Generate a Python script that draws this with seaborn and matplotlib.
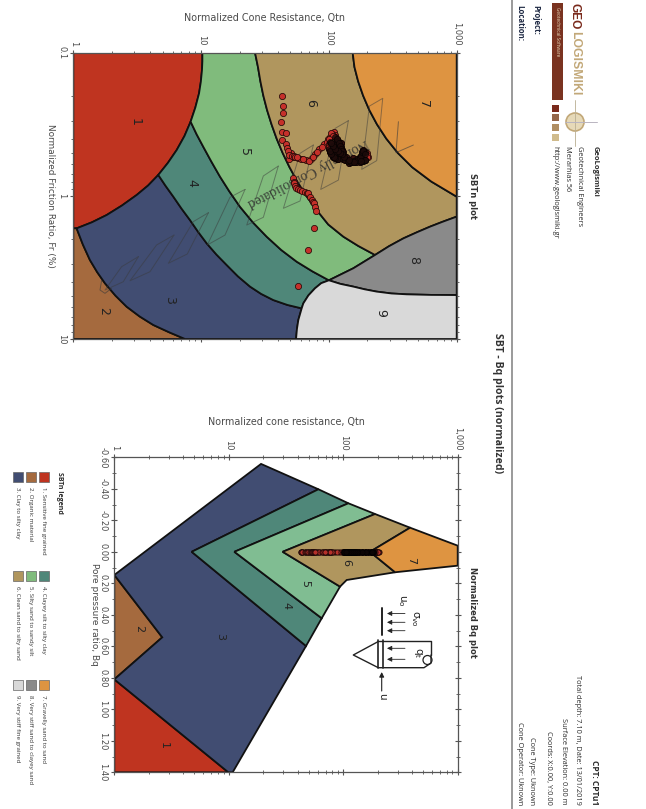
import numpy as np
import pandas as pd
import seaborn as sns
import matplotlib
matplotlib.use("Agg")
import matplotlib.pyplot as plt
from matplotlib.patches import Rectangle, Circle, FancyArrowPatch
from matplotlib.ticker import FixedLocator, FixedFormatter, NullFormatter, LogLocator, MultipleLocator

# colours of the soil behaviour zones
ZONE_COLORS = ["#bf3420", "#a56a3e", "#414d72", "#4f8779", "#80bb7c",
               "#b0965e", "#de9441", "#8a8a8a", "#d9d9d9"]
BQ_5_COLOR = "#80bd92"

LEGEND_NAMES = ["1. Sensitive fine grained", "2. Organic material", "3. Clay to silty clay",
                "4. Clayey silt to silty clay", "5. Silty sand to sandy silt", "6. Clean sand to silty sand",
                "7. Gravelly sand to sand", "8. Very stiff sand to clayey sand", "9. Very stiff fine grained"]

# zone boundaries of the Fr plot (log10 Qtn, log10 Fr)
C1_Q = [1.01, 1.01, 1.007, 0.998, 0.984, 0.955, 0.918, 0.87, 0.809, 0.74, 0.665, 0.585, 0.496, 0.38, 0.261, 0.145, 0.026]
C1_F = [-1.0, -0.94, -0.879, -0.797, -0.716, -0.617, -0.518, -0.418, -0.32, -0.23, -0.146, -0.072, -0.006, 0.068, 0.134, 0.185, 0.227]
C23_Q = [0.026, 0.075, 0.13, 0.187, 0.248, 0.33, 0.417, 0.52, 0.626, 0.75, 0.874]
C23_F = [0.227, 0.34, 0.448, 0.533, 0.611, 0.697, 0.774, 0.843, 0.902, 0.953, 1.0]
C34_Q = [0.665, 0.722, 0.783, 0.846, 0.913, 0.977, 1.044, 1.12, 1.2, 1.288, 1.383, 1.47, 1.565, 1.675, 1.787]
C34_F = [-0.146, -0.07, 0.006, 0.088, 0.169, 0.252, 0.332, 0.41, 0.483, 0.562, 0.634, 0.685, 0.728, 0.762, 0.786]
C45_Q = [0.918, 0.965, 1.017, 1.08, 1.148, 1.222, 1.304, 1.405, 1.513, 1.627, 1.748, 1.872, 2.0]
C45_F = [-0.518, -0.43, -0.343, -0.24, -0.134, -0.03, 0.076, 0.185, 0.285, 0.378, 0.46, 0.528, 0.59]
C56_Q = [1.422, 1.445, 1.464, 1.487, 1.516, 1.551, 1.591, 1.638, 1.692, 1.753, 1.823, 1.905, 1.995, 2.113, 2.23, 2.361]
C56_F = [-1.0, -0.9, -0.8, -0.7, -0.6, -0.5, -0.4, -0.3, -0.2, -0.1, 0.0, 0.1, 0.2, 0.285, 0.35, 0.413]
C67_Q = [2.186, 2.2, 2.229, 2.268, 2.316, 2.376, 2.449, 2.539, 2.652, 2.801, 3.0]
C67_F = [-1.0, -0.9, -0.8, -0.7, -0.6, -0.5, -0.4, -0.3, -0.2, -0.1, 0.006]
C68_Q = [2.361, 2.47, 2.583, 2.69, 2.792, 2.89, 3.0]
C68_F = [0.413, 0.352, 0.297, 0.254, 0.215, 0.181, 0.145]
C58_Q = [2.361, 2.191, 2.0]
C58_F = [0.413, 0.506, 0.59]
C89_Q = [2.0, 2.09, 2.191, 2.28, 2.374, 2.49, 2.609, 2.8, 3.0]
C89_F = [0.59, 0.615, 0.634, 0.653, 0.669, 0.682, 0.688, 0.692, 0.693]
C9_Q = [2.0, 1.94, 1.891, 1.84, 1.80, 1.787, 1.761, 1.75, 1.743]
C9_F = [0.59, 0.61, 0.646, 0.695, 0.751, 0.786, 0.867, 0.93, 1.0]

# Normally Consolidated band, parallelograms in the same decades
NC_Q = [[2.421, 2.317, 2.257, 2.374], [2.152, 2.048, 1.936, 2.074], [1.878, 1.774, 1.644, 1.774],
        [1.604, 1.487, 1.357, 1.487], [1.344, 1.226, 1.049, 1.187], [1.057, 0.939, 0.744, 0.892],
        [0.788, 0.652, 0.444, 0.600], [0.509, 0.378, 0.248, 0.391]]
NC_F = [[-0.681, -0.627, -0.185, -0.246], [-0.525, -0.471, -0.045, -0.110], [-0.355, -0.297, 0.087, 0.036],
        [-0.208, -0.139, 0.204, 0.150], [-0.045, 0.010, 0.343, 0.274], [0.118, 0.180, 0.471, 0.406],
        [0.274, 0.343, 0.593, 0.530], [0.425, 0.495, 0.658, 0.600]]
HOOK_Q = [0.300, 0.248, 0.209, 0.222]
HOOK_F = [0.646, 0.681, 0.658, 0.588]
FORK_Q = [2.544, 2.525, 2.661]
FORK_F = [-0.518, -0.302, -0.355]

# CPT points
LOG_QTN = [1.631, 1.641, 1.644, 1.628, 1.636, 1.664, 1.636, 1.662, 1.675, 1.701, 1.717, 1.691,
           1.68, 1.69, 1.71, 1.725, 1.735, 1.76, 1.78, 1.82, 1.86, 1.895, 1.925, 1.96, 1.995,
           1.748, 1.800, 1.842, 1.878, 1.910, 1.944, 1.983, 2.009, 2.040, 2.045, 2.061, 2.092,
           2.100, 2.074, 2.035, 2.048, 2.100, 2.139, 2.191, 2.244, 2.283, 2.309, 2.283, 2.244,
           2.165, 2.087, 2.009, 2.035,
           2.025, 2.051, 2.074, 2.095, 2.100, 2.082, 2.061, 2.030, 2.004, 1.998, 2.118, 2.160,
           2.186, 2.218, 2.257, 2.270, 2.301, 2.291, 2.265, 2.212, 2.134, 2.113, 2.066, 2.056,
           2.02, 2.035, 2.06, 2.08, 2.09, 2.098, 2.10, 2.097, 2.09, 2.07, 2.05, 2.04, 2.02, 2.01, 2.0, 2.005, 2.0,
           2.11, 2.125, 2.15, 2.17, 2.2, 2.225, 2.24, 2.25, 2.26, 2.27, 2.285, 2.295, 2.30, 2.28, 2.255, 2.2, 2.16,
           2.12, 2.105, 2.085, 2.07, 2.05, 2.03, 2.02,
           1.722, 1.73, 1.727, 1.735, 1.743, 1.755, 1.774, 1.79, 1.813, 1.825, 1.839, 1.85, 1.865, 1.875,
           1.884, 1.89, 1.899, 1.886, 1.839, 1.756]
LOG_FR = [-0.697, -0.630, -0.576, -0.516, -0.444, -0.437, -0.390, -0.362, -0.332, -0.297, -0.269, -0.255,
          -0.31, -0.285, -0.28, -0.275, -0.27, -0.265, -0.26, -0.25, -0.26, -0.29, -0.325, -0.36, -0.395,
          -0.274, -0.255, -0.243, -0.274, -0.308, -0.343, -0.378, -0.413, -0.448, -0.425, -0.378, -0.367,
          -0.320, -0.292, -0.274, -0.320, -0.262, -0.250, -0.262, -0.274, -0.308, -0.274, -0.250, -0.239,
          -0.239, -0.274, -0.308, -0.343,
          -0.432, -0.409, -0.385, -0.343, -0.292, -0.269, -0.255, -0.278, -0.325, -0.362, -0.255, -0.232,
          -0.239, -0.255, -0.292, -0.320, -0.302, -0.262, -0.246, -0.236, -0.274, -0.306, -0.325, -0.301,
          -0.44, -0.42, -0.395, -0.37, -0.35, -0.33, -0.31, -0.28, -0.27, -0.26, -0.262, -0.27, -0.29, -0.31, -0.34, -0.375, -0.4,
          -0.26, -0.25, -0.24, -0.235, -0.245, -0.25, -0.265, -0.28, -0.305, -0.315, -0.295, -0.285, -0.27, -0.25, -0.24, -0.235, -0.25,
          -0.27, -0.29, -0.30, -0.31, -0.33, -0.35, -0.37,
          -0.122, -0.10, -0.087, -0.07, -0.052, -0.045, -0.041, -0.035, -0.029, -0.02, -0.017, 0.005, 0.029, 0.04,
          0.052, 0.08, 0.104, 0.222, 0.378, 0.630]

# Bq chart polygons: log10 Qtn and Bq
BQ_ZONES_Q = [[0.0, 0.996, 0.0],
              [0.0, 0.419, 0.0],
              [1.282, 1.783, 0.676, 1.675, 1.034, 0.996, 0.0, 0.419, 0.0],
              [1.783, 2.045, 1.049, 1.812, 1.675, 0.676],
              [2.045, 2.278, 1.471, 1.972, 1.812, 1.049],
              [2.278, 2.584, 2.234, 2.453, 2.030, 1.972, 1.471],
              [2.584, 3.0, 3.0, 2.453, 2.234]]
BQ_ZONES_B = [[0.81, 1.40, 1.40],
              [0.147, 0.543, 0.81],
              [-0.558, -0.397, 0.0, 0.598, 1.40, 1.40, 0.81, 0.543, 0.147],
              [-0.397, -0.308, 0.0, 0.422, 0.598, 0.0],
              [-0.308, -0.240, 0.0, 0.221, 0.422, 0.0],
              [-0.240, -0.153, 0.0, 0.130, 0.179, 0.221, 0.0],
              [-0.153, -0.039, 0.088, 0.130, 0.0]]
BQ_VALUES = [0.0] * len(LOG_QTN)

FR_LABEL_Q = [0.483, 0.235, 0.751, 0.926, 1.336, 1.858, 2.739, 2.666, 2.406]
FR_LABEL_F = [-0.513, 0.805, 0.729, -0.087, -0.308, -0.651, -0.641, 0.448, 0.821]
BQ_LABEL_Q = [0.434, 0.218, 0.923, 1.506, 1.666, 2.024, 2.592]
BQ_LABEL_B = [1.231, 0.490, 0.539, 0.342, 0.200, 0.069, 0.058]

sns.set_theme(style="white")
plt.rcParams["font.family"] = ["DejaVu Sans"]
TXT = "#4a4a4a"

fig = plt.figure(figsize=(6.46, 8.09), dpi=100)


def axes_px(left, top, right, bottom):
    return fig.add_axes([left / 646, 1 - bottom / 809, (right - left) / 646, (bottom - top) / 809])


def style_axes(ax):
    ax.set_xscale("log")
    ax.set_xlim(1, 1000)
    ax.xaxis.set_major_locator(FixedLocator([1, 10, 100, 1000]))
    ax.xaxis.set_major_formatter(FixedFormatter(["1", "10", "100", "1,000"]))
    ax.xaxis.set_minor_locator(LogLocator(base=10, subs=np.arange(2, 10), numticks=10))
    ax.xaxis.set_minor_formatter(NullFormatter())
    ax.tick_params(axis="both", which="major", direction="inout", length=5, width=0.8, color="#555555",
                   top=True, bottom=True, left=True, right=True, labelsize=6, labelcolor=TXT,
                   labeltop=True, labelbottom=False, pad=2.5)
    ax.tick_params(axis="both", which="minor", direction="inout", length=3, width=0.6, color="#555555",
                   top=True, bottom=True, left=True, right=True)
    ax.tick_params(axis="x", labelrotation=270)
    ax.tick_params(axis="y", labelrotation=270)
    for lab in ax.get_yticklabels():
        lab.set_va("center")
    ax.xaxis.set_label_position("top")
    for s in ax.spines.values():
        s.set_color("#555555")
        s.set_linewidth(0.9)


def zone(ax, color, qs, fs):
    ax.fill(10 ** np.array(qs), fs, facecolor=color, edgecolor="#111111", linewidth=1.3, zorder=2)


def cat(*parts):
    return np.concatenate([np.array(p, dtype=float) for p in parts])


# --- Fr plot ---
ax1 = axes_px(73.3, 52.7, 456.7, 339)
style_axes(ax1)
ax1.set_yscale("log")
ax1.set_ylim(10, 0.1)
ax1.yaxis.set_major_locator(FixedLocator([0.1, 1, 10]))
ax1.yaxis.set_major_formatter(FixedFormatter(["0.1", "1", "10"]))
ax1.yaxis.set_minor_locator(LogLocator(base=10, subs=np.arange(2, 10), numticks=10))
ax1.yaxis.set_minor_formatter(NullFormatter())

regions = [
    (cat([0.0], C1_Q, [0.0]), cat([-1.0], C1_F, [C1_F[-1]])),
    (cat([0.0], C23_Q, [0.0]), cat([C23_F[0]], C23_F, [1.0])),
    (cat(C34_Q, C9_Q[5:], C23_Q[::-1], C1_Q[10:][::-1]), cat(C34_F, C9_F[5:], C23_F[::-1], C1_F[10:][::-1])),
    (cat(C1_Q[6:11], C34_Q, C9_Q[:6][::-1], C45_Q[::-1]), cat(C1_F[6:11], C34_F, C9_F[:6][::-1], C45_F[::-1])),
    (cat(C1_Q[:7][::-1], C56_Q, C58_Q, C45_Q[::-1]), cat(C1_F[:7][::-1], C56_F, C58_F, C45_F[::-1])),
    (cat(C56_Q, C68_Q, C67_Q[::-1]), cat(C56_F, C68_F, C67_F[::-1])),
    (cat(C67_Q, [3.0]), cat(C67_F, [-1.0])),
    (cat(C68_Q, C89_Q[::-1], C58_Q[::-1]), cat(C68_F, C89_F[::-1], C58_F[::-1])),
    (cat(C89_Q, [3.0], C9_Q[::-1]), cat(C89_F, [1.0], C9_F[::-1])),
]
for col, (q, f) in zip(ZONE_COLORS, regions):
    zone(ax1, col, q, 10 ** f)

for q, f in zip(NC_Q, NC_F):
    ax1.plot(10 ** np.array(q + q[:1]), 10 ** np.array(f + f[:1]), color="#3a3a3a", lw=0.7, alpha=0.5, zorder=3)
ax1.plot(10 ** np.array(HOOK_Q), 10 ** np.array(HOOK_F), color="#3a3a3a", lw=0.7, alpha=0.6, zorder=3)
ax1.plot(10 ** np.array(FORK_Q), 10 ** np.array(FORK_F), color="#3a3a3a", lw=0.7, alpha=0.6, zorder=3)
ax1.text(10 ** 1.835, 10 ** -0.16, "Normally Consolidated", family="Liberation Serif", fontsize=10.4, color="#2e2e2e",
         rotation=207.5, rotation_mode="anchor", ha="center", va="center", alpha=0.85, zorder=4)

fr_df = pd.DataFrame({"Qtn": 10 ** np.array(LOG_QTN), "Fr": 10 ** np.array(LOG_FR),
                      "logQ": LOG_QTN, "logF": LOG_FR})
# the overlapping readings of the upper loop print almost black in the reference
core = fr_df[(fr_df.logQ > 2.0) & (fr_df.logQ < 2.29) & (fr_df.logF > -0.41)]
sns.scatterplot(data=fr_df, x="Qtn", y="Fr", ax=ax1, color="#c5302a", edgecolor="#240a08", linewidth=0.55, s=20, zorder=5)
sns.scatterplot(data=core, x="Qtn", y="Fr", ax=ax1, color="#1d0b0a", edgecolor="#000000", linewidth=0.4, s=20, alpha=0.85, zorder=5)

for i, (q, f) in enumerate(zip(FR_LABEL_Q, FR_LABEL_F)):
    ax1.text(10 ** q, 10 ** f, str(i + 1), rotation=270, ha="center", va="center", fontsize=9, color="#222222", zorder=6)
ax1.set_xlabel("Normalized Cone Resistance, Qtn", fontsize=6.9, color=TXT, labelpad=1)
ax1.set_ylabel("Normalized Friction Ratio, Fr (%)", fontsize=6.4, color=TXT, rotation=270, labelpad=5, va="center")

# --- Bq plot ---
ax2 = axes_px(114.3, 457.3, 457.7, 772.3)
style_axes(ax2)
ax2.set_ylim(1.4, -0.6)
ax2.yaxis.set_major_locator(MultipleLocator(0.2))
ax2.yaxis.set_minor_locator(MultipleLocator(0.1))
ax2.yaxis.set_major_formatter(FixedFormatter([]))
bq_ticks = np.arange(-0.6, 1.41, 0.2)
ax2.set_yticks(bq_ticks)
ax2.set_yticklabels([f"{v:.2f}" if abs(v) > 1e-9 else "0.00" for v in bq_ticks], rotation=270, va="center")

bq_colors = [ZONE_COLORS[0], ZONE_COLORS[1], ZONE_COLORS[2], ZONE_COLORS[3], BQ_5_COLOR, ZONE_COLORS[5], ZONE_COLORS[6]]
for col, q, b in zip(bq_colors, BQ_ZONES_Q, BQ_ZONES_B):
    zone(ax2, col, q, b)

bq_df = pd.DataFrame({"Qtn": 10 ** np.array(LOG_QTN), "Bq": BQ_VALUES, "logQ": LOG_QTN})
bq_core = bq_df[(bq_df.logQ > 2.0) & (bq_df.logQ < 2.27)]
sns.scatterplot(data=bq_df, x="Qtn", y="Bq", ax=ax2, color="#b5302a", edgecolor="#1a0808", linewidth=0.6, s=14, zorder=5)
sns.scatterplot(data=bq_core, x="Qtn", y="Bq", ax=ax2, color="#0c0505", edgecolor="#000000", linewidth=0.4, s=14, zorder=5)

for i, (q, b) in enumerate(zip(BQ_LABEL_Q, BQ_LABEL_B)):
    ax2.text(10 ** q, b, str(i + 1), rotation=270, ha="center", va="center", fontsize=8, color="#222222", zorder=6)
ax2.set_xlabel("Normalized cone resistance, Qtn", fontsize=6.9, color=TXT, labelpad=1)
ax2.set_ylabel("Pore pressure ratio, Bq", fontsize=6.5, color=TXT, rotation=270, labelpad=3, va="center")

# --- page furniture, drawn in image pixels on a clear overlay ---
page = fig.add_axes([0, 0, 1, 1], facecolor="none")
page.set_xlim(0, 646)
page.set_ylim(809, 0)
page.axis("off")


def vtext(x, y, s, size=5.3, weight="normal", color="#2b2b2b", va="top", family="Open Sans", **kw):
    page.text(x, y, s, rotation=270, ha="center", va=va, fontsize=size, fontweight=weight, color=color,
              family=family, **kw)


page.plot([512, 512], [0, 809], color="#9a9a9a", lw=1.4)
vtext(497, 333, "SBT - Bq plots (normalized)", size=7.6, weight="bold", color="#333333")
vtext(472, 173, "SBTn plot", size=6, weight="bold", family="DejaVu Sans", color="#333333")
vtext(472, 567, "Normalized Bq plot", size=6, weight="bold", family="DejaVu Sans", color="#333333")

vtext(536, 5, "Project:", weight="bold", size=5.6, color="#1f2a44")
vtext(520, 5, "Location:", weight="bold", size=5.6, color="#1f2a44")

# logo
vtext(575, 3, "GEO", size=8.6, weight="bold", color="#7a2a1c", family="Liberation Sans")
vtext(575, 31, "LOGISMIKI", size=8.8, weight="bold", color="#c2a878", family="Liberation Sans")
page.add_patch(Rectangle((552, 3), 11, 97, facecolor="#7a3320", edgecolor="none"))
vtext(557.5, 7, "Geotechnical Software", size=3.4, color="#e6d6b8")
for y0, c in zip([105, 114, 124, 134], ["#7a2a1c", "#94674a", "#b08e62", "#d0bb8c"]):
    page.add_patch(Rectangle((552, y0), 7, 7, facecolor=c, edgecolor="none"))
page.add_patch(Circle((575, 122), 9, facecolor="#e6d9b8", edgecolor="#c2a878", lw=1.2))
page.plot([575, 575], [100, 146], color="#b9ae92", lw=0.6)
page.plot([565, 597], [122, 122], color="#b9b4c0", lw=0.7)

vtext(595, 146, "GeoLogismiki", weight="bold", size=5.4)
vtext(580, 146, "Geotechnical Engineers")
vtext(568, 146, "Merarhias 56")
vtext(555, 146, "http://www.geologismiki.gr")

vtext(594, 805, "CPT: CPTu1", weight="bold", size=6, va="bottom")
vtext(578, 805, "Total depth: 7.10 m, Date: 13/01/2019", va="bottom")
vtext(563, 805, "Surface Elevation: 0.00 m", va="bottom")
vtext(548, 805, "Coords: X:0.00, Y:0.00", va="bottom")
vtext(532, 805, "Cone Type: Uknown", va="bottom")
vtext(520, 805, "Cone Operator: Uknown", va="bottom")

# legend
vtext(59, 472, "SBTn legend", size=5, weight="bold")
for i, name in enumerate(LEGEND_NAMES):
    col = i // 3
    xc = [43.7, 30.7, 17.7][i % 3]
    y0 = [472, 571, 680][col]
    page.add_patch(Rectangle((xc - 5, y0), 10, 10, facecolor=ZONE_COLORS[i], edgecolor="#666666", lw=0.5))
    vtext(xc, y0 + 15, name, size=4.4, color="#333333")

# cone diagram
ink = "#222222"
page.plot([378.3, 353.3, 378.3], [641.5, 655, 667.7], color=ink, lw=1)
page.plot([378.3, 431, 431], [641, 641, 655], color=ink, lw=1)
page.plot([378.3, 424, 431, 431], [667.7, 667.7, 663, 655], color=ink, lw=1)
page.plot([378.3, 378.3], [640, 668], color=ink, lw=1.2)
page.plot([383.3, 383.3], [640, 668], color=ink, lw=1.2)
page.add_patch(Circle((427.5, 660), 4.5, facecolor="none", edgecolor=ink, lw=0.9))
page.plot([381.7, 381.7], [608, 634.5], color=ink, lw=1.4)
for y in [613.5, 622.3, 630.7]:
    page.add_patch(FancyArrowPatch((405, y), (387, y), arrowstyle="-|>", mutation_scale=7, color=ink, lw=0.6, shrinkA=0, shrinkB=0))
for y in [648.3, 659.3]:
    page.add_patch(FancyArrowPatch((405, y), (387, y), arrowstyle="-|>", mutation_scale=7, color=ink, lw=0.6, shrinkA=0, shrinkB=0))
page.add_patch(FancyArrowPatch((381.7, 691), (381.7, 672), arrowstyle="-|>", mutation_scale=7, color=ink, lw=0.8, shrinkA=0, shrinkB=0))
vtext(381.7, 696.5, "u", size=7.5, va="center", family="DejaVu Sans", color=ink)
vtext(418, 653, r"$\mathregular{q_t}$", size=7.5, va="center", family="DejaVu Sans", color=ink)
vtext(415, 618, r"$\mathregular{\sigma_{vo}}$", size=7.5, va="center", family="DejaVu Sans", color=ink)
vtext(402, 600, r"$\mathregular{u_o}$", size=7.5, va="center", family="DejaVu Sans", color=ink)

fig.savefig("out.png", dpi=100, facecolor="white")
